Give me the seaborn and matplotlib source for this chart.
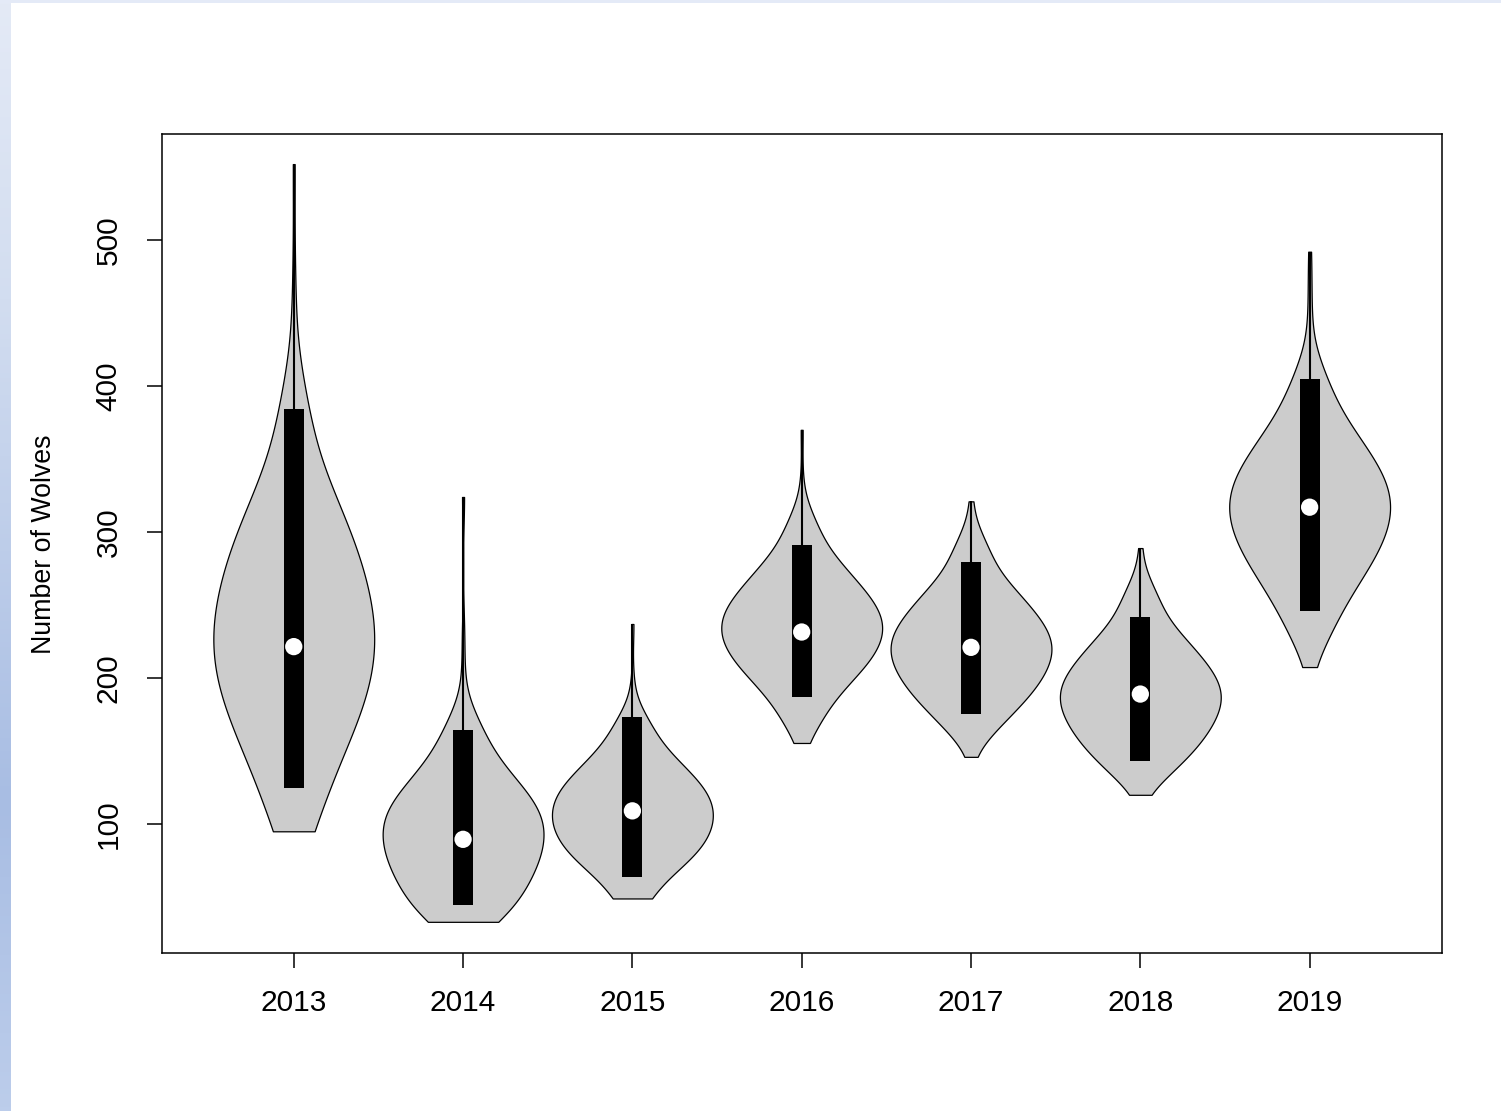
import numpy as np
import pandas as pd
import matplotlib
matplotlib.use("Agg")
import matplotlib.pyplot as plt
from matplotlib.colors import LinearSegmentedColormap
import seaborn as sns

# ---------------- data ----------------
years = ["2013", "2014", "2015", "2016", "2017", "2018", "2019"]

# core observations (each counted CORE_WEIGHT times) and sparse extreme observations (counted once)
core_2013 = [95, 121, 140, 154, 166, 176, 185, 194, 203, 211,
             219, 226, 234, 243, 250, 259, 269, 278, 288, 298, 311, 325, 346, 386]
extra_2013 = [440, 475, 552]

core_2014 = [33, 40, 48, 55, 62, 68, 74, 79, 84, 89,
             95, 100, 104.5, 109, 115, 121, 127.5, 136, 148, 167]
extra_2014 = [200, 230, 324]

core_2015 = [49, 65, 72, 77.5, 83, 88, 92, 96.5, 100.5, 105,
             109, 113, 117.5, 121.5, 126, 131, 137, 143.5, 153, 169]
extra_2015 = [195, 237]

core_2016 = [170, 185, 194.5, 201, 207, 212, 216.5, 220.5, 225, 229,
             233, 237, 240.5, 244.5, 249, 253, 258, 263.5, 269.5, 277, 286.5, 305]
extra_2016 = [155.5, 332, 370]

core_2017 = [165, 176, 184, 190, 195.5, 200.5, 205.5, 210.5, 214.5, 219,
             223, 227.5, 231.5, 236.5, 241.5, 247, 253.5, 260.5, 271, 289]
extra_2017 = [146, 306, 321]

core_2018 = [134, 143.5, 151, 157, 162.5, 167.5, 172.5, 177.5, 181.5, 186,
             190, 194.5, 198.5, 203.5, 208.5, 214, 220.5, 227.5, 238, 256]
extra_2018 = [120, 272, 289]

core_2019 = [231, 250, 263, 272.5, 280.5, 288, 295, 300.5, 307.5, 313,
             319, 324.5, 330.5, 336, 343, 350.5, 358, 368, 381, 404]
extra_2019 = [207.5, 440, 465, 492]

CORE_WEIGHT = 10

# box summary (as drawn in the reference)
q1_values = [125, 44.5, 64, 187, 175.5, 143, 246]
median_values = [221.5, 89.5, 109, 231.5, 221, 189, 317]
q3_values = [384, 164.5, 173, 291, 279.5, 242, 405]

cores = [core_2013, core_2014, core_2015, core_2016, core_2017, core_2018, core_2019]
extras = [extra_2013, extra_2014, extra_2015, extra_2016, extra_2017, extra_2018, extra_2019]

frames = []
for yr, core, extra in zip(years, cores, extras):
    vals = np.concatenate([np.repeat(core, CORE_WEIGHT), extra]).astype(float)
    frames.append(pd.DataFrame({"year": yr, "wolves": vals}))
df = pd.concat(frames, ignore_index=True)

# ---------------- style ----------------
sns.set_style("white")
plt.rcParams["font.family"] = ["Liberation Sans", "DejaVu Sans"]

fig = plt.figure(figsize=(15.01, 11.11), dpi=100)
fig.patch.set_facecolor("white")

# decorative light-blue window border (left strip + top strip)
strip_cmap = LinearSegmentedColormap.from_list(
    "strip", [(0.0, "#bccdeb"), (0.28, "#a8bde3"), (0.73, "#d2ddf0"), (1.0, "#e4eaf6")])
sax = fig.add_axes([0, 0, 11 / 1501, 1])
sax.imshow(np.linspace(0, 1, 256).reshape(-1, 1), aspect="auto", cmap=strip_cmap,
           origin="lower", extent=[0, 1, 0, 1])
sax.axis("off")
fig.patches.append(plt.Rectangle((0, 1 - 3 / 1111), 1, 3 / 1111, transform=fig.transFigure,
                                 facecolor="#e4eaf7", edgecolor="none", zorder=0))

ax = fig.add_axes([161.7 / 1501, (1111 - 953.3) / 1111, 1280 / 1501, (953.3 - 134.3) / 1111])

sns.violinplot(data=df, x="year", y="wolves", order=years, ax=ax,
               cut=0, inner=None, density_norm="width", width=0.95,
               bw_method=0.42, gridsize=300,
               color="#cccccc", saturation=1, linewidth=0.9, linecolor="black")

pos = np.arange(len(years))
maxima = df.groupby("year")["wolves"].max().reindex(years).values
ax.vlines(pos, q3_values, maxima, color="black", linewidth=1.5, zorder=3)
ax.bar(pos, np.array(q3_values) - np.array(q1_values), bottom=q1_values, width=0.118,
       color="black", zorder=4, linewidth=0)
ax.scatter(pos, median_values, s=155, color="white", edgecolors="none", zorder=5)

ax.set_xlim(-0.78, 6.78)
ax.set_ylim(11.44, 572.4)
ax.set_yticks([100, 200, 300, 400, 500])
ax.set_xlabel("")
ax.set_ylabel("Number of Wolves", fontsize=19.3, color="black")
ax.yaxis.set_label_coords(-0.082, 0.5)

ax.tick_params(axis="both", which="major", bottom=True, left=True, direction="out",
               length=11, width=1.1, color="black", labelcolor="black", labelsize=21.5)
ax.tick_params(axis="x", pad=15)
ax.tick_params(axis="y", pad=17)
for lab in ax.get_yticklabels():
    lab.set_rotation(90)
    lab.set_va("center")

for sp in ax.spines.values():
    sp.set_visible(True)
    sp.set_color("black")
    sp.set_linewidth(1.1)

fig.savefig("out.png", dpi=100, facecolor=fig.get_facecolor())
